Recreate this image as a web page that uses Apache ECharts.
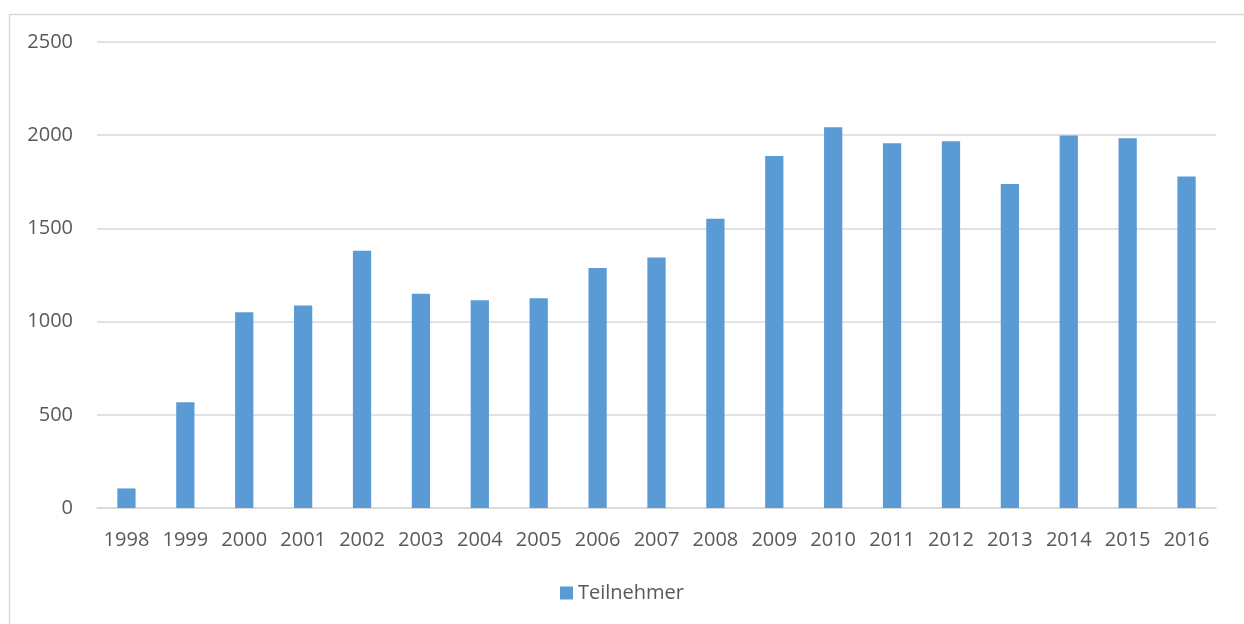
<!DOCTYPE html>
<html><head><meta charset="utf-8">
<script src="https://cdn.jsdelivr.net/npm/echarts@6/dist/echarts.min.js"></script>
<style>html,body{margin:0;padding:0;background:#fff}#c{width:1244px;height:624px}</style>
</head><body><div id="c"></div>
<script>
const years = ['1998','1999','2000','2001','2002','2003','2004','2005','2006','2007','2008','2009','2010','2011','2012','2013','2014','2015','2016'];
const teilnehmer = [105,567,1050,1086,1380,1150,1115,1125,1287,1344,1552,1889,2043,1957,1968,1738,1998,1984,1779];
const yTicks = [0,500,1000,1500,2000,2500];
const seriesName = 'Teilnehmer';

const chart = echarts.init(document.getElementById('c'));
const txt = {color:'#595959', fontFamily:'"Open Sans", Calibri, sans-serif', fontSize:20};
chart.setOption({
  animation:false,
  graphic:[{type:'rect', left:7, top:12, shape:{width:1236, height:620}, style:{fill:null, stroke:'#d9d9d9', lineWidth:1.5}, silent:true}],
  grid:{left:97, right:28, top:42, bottom:116, containLabel:false},
  legend:{bottom:16, left:'center', itemWidth:13, itemHeight:13, icon:'rect', itemGap:6,
    textStyle:Object.assign({}, txt), data:[seriesName]},
  xAxis:{type:'category', data:years,
    axisLine:{lineStyle:{color:'#d9d9d9', width:1.5}}, axisTick:{show:false},
    axisLabel:Object.assign({margin:22, interval:0, hideOverlap:false}, txt)},
  yAxis:{type:'value', min:yTicks[0], max:yTicks[yTicks.length-1], interval:500,
    axisLine:{show:false}, axisTick:{show:false},
    splitLine:{lineStyle:{color:'#d9d9d9', width:1.5}},
    axisLabel:Object.assign({margin:24, formatter: v => String(v)}, txt)},
  series:[{name:seriesName, type:'bar', data:teilnehmer, barWidth:'31%',
    itemStyle:{color:'#5b9bd5'}}]
});
</script></body></html>
